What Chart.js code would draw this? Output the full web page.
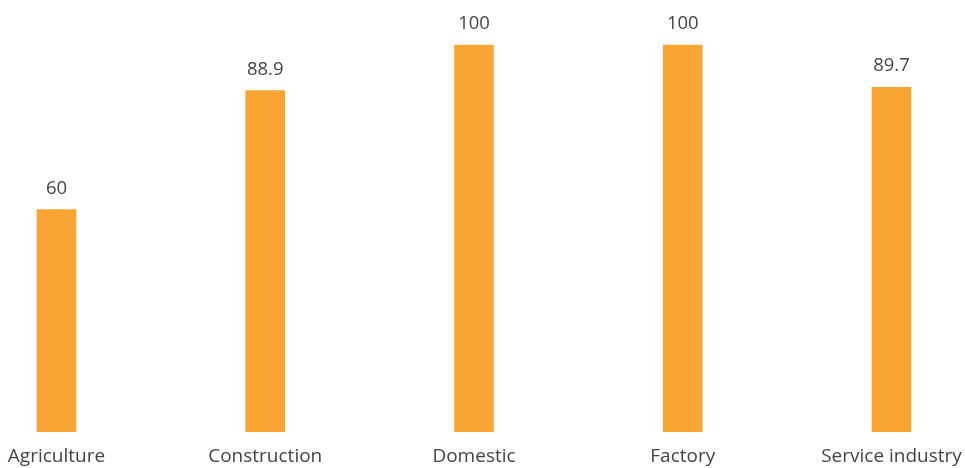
<!DOCTYPE html>
<html>
<head>
<meta charset="utf-8">
<script src="https://cdn.jsdelivr.net/npm/chart.js@4/dist/chart.umd.min.js"></script>
<style>
  html, body { margin: 0; padding: 0; background: #ffffff; }
  #wrap { position: relative; width: 965px; height: 468px; }
</style>
</head>
<body>
<div id="wrap"><canvas id="c" width="965" height="468"></canvas></div>
<script>
const categories = ["Agriculture", "Construction", "Domestic", "Factory", "Service industry"];
const values = [60, 88.9, 100, 100, 89.7];
const valueLabels = ["60", "88.9", "100", "100", "89.7"];

const FONT = "'Open Sans', 'Noto Sans', sans-serif";
const TEXT = "#444444";

const valueLabelPlugin = {
  id: "valueLabels",
  afterDatasetsDraw(chart) {
    const ctx = chart.ctx;
    const meta = chart.getDatasetMeta(0);
    ctx.save();
    ctx.font = "18.5px " + FONT;
    ctx.fillStyle = TEXT;
    ctx.textAlign = "center";
    ctx.textBaseline = "alphabetic";
    meta.data.forEach((bar, i) => {
      ctx.fillText(valueLabels[i], bar.x, bar.y - 16);
    });
    ctx.restore();
  }
};

new Chart(document.getElementById("c"), {
  type: "bar",
  data: {
    labels: categories,
    datasets: [{
      data: values,
      backgroundColor: "#F9A533",
      borderWidth: 0,
      barThickness: 39,
      clip: { left: 40, right: 40, top: 45, bottom: 0 }
    }]
  },
  options: {
    responsive: false,
    animation: false,
    devicePixelRatio: 1,
    layout: { padding: { left: 56.5, right: 73.5, top: 45, bottom: 0 } },
    plugins: { legend: { display: false }, tooltip: { enabled: false } },
    scales: {
      x: {
        offset: false,
        grid: { display: false, drawTicks: false },
        border: { display: false },
        afterFit(scale) { scale.paddingLeft = 0; scale.paddingRight = 0; scale.height = 36; },
        ticks: {
          autoSkip: false,
          maxRotation: 0,
          minRotation: 0,
          padding: 13,
          color: TEXT,
          font: { family: FONT, size: 19 }
        }
      },
      y: {
        display: false,
        min: 6,
        max: 100
      }
    }
  },
  plugins: [valueLabelPlugin]
});
</script>
</body>
</html>
